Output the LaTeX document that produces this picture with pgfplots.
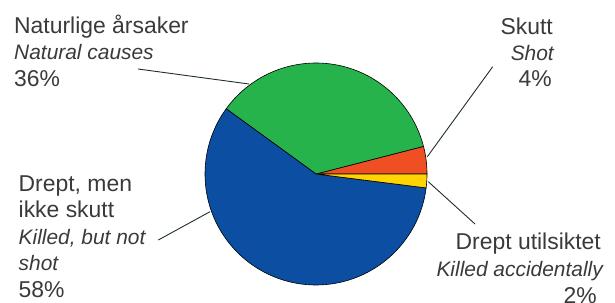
\documentclass[border=0pt]{standalone}
\usepackage{pgfplots}
\usepackage{pgfplotstable}
\pgfplotsset{compat=1.18}
\usepackage{fontspec}
\setmainfont{Liberation Sans}
\definecolor{cgreen}{HTML}{26B34B}
\definecolor{cred}{HTML}{F04E23}
\definecolor{cyellow}{HTML}{FFD400}
\definecolor{cblue}{HTML}{0B4EA2}
\definecolor{ctext}{HTML}{3A3A3A}
\definecolor{cline}{HTML}{1F2F2A}
\pgfplotstableread{
label share
shot 4
natural 36
killed 58
accident 2
}\piedata
\newcommand{\reg}{\fontsize{23}{26}\selectfont}
\newcommand{\ita}{\fontsize{21}{26}\selectfont\itshape}
\begin{document}
\begin{tikzpicture}
\pgfplotstablegetelem{0}{share}\of\piedata \let\sShot\pgfplotsretval
\pgfplotstablegetelem{1}{share}\of\piedata \let\sNat\pgfplotsretval
\pgfplotstablegetelem{2}{share}\of\piedata \let\sKill\pgfplotsretval
\pgfplotstablegetelem{3}{share}\of\piedata \let\sAcc\pgfplotsretval
\pgfmathsetmacro\aA{3.6*\sShot}
\pgfmathsetmacro\aB{\aA+3.6*\sNat}
\pgfmathsetmacro\aC{\aB+3.6*\sKill}
\pgfmathsetmacro\aD{\aC+3.6*\sAcc}
\def\cx{316}\def\cy{129}\def\R{111}
\begin{axis}[
  scale only axis, width=615bp, height=303bp,
  xmin=0, xmax=615, ymin=0, ymax=303,
  hide axis, clip=false,
  every axis plot/.append style={line join=round},
]
\addplot[draw=black, fill=cred, line width=0.6bp, domain=0:\aA, samples=20, variable=\t] ({\cx+\R*cos(\t)},{\cy+\R*sin(\t)}) -- (\cx,\cy) -- cycle;
\addplot[draw=black, fill=cgreen, line width=0.6bp, domain=\aA:\aB, samples=80, variable=\t] ({\cx+\R*cos(\t)},{\cy+\R*sin(\t)}) -- (\cx,\cy) -- cycle;
\addplot[draw=black, fill=cblue, line width=0.6bp, domain=\aB:\aC, samples=120, variable=\t] ({\cx+\R*cos(\t)},{\cy+\R*sin(\t)}) -- (\cx,\cy) -- cycle;
\addplot[draw=black, fill=cyellow, line width=0.6bp, domain=\aC:\aD, samples=10, variable=\t] ({\cx+\R*cos(\t)},{\cy+\R*sin(\t)}) -- (\cx,\cy) -- cycle;
% leader lines
\addplot[cline, line width=0.9bp] coordinates {(138,234) (249,219)};
\addplot[cline, line width=0.9bp] coordinates {(492.7,236.3) (427.3,146.3)};
\addplot[cline, line width=0.9bp] coordinates {(428.3,121.3) (475,79)};
\addplot[cline, line width=0.9bp] coordinates {(158.3,63) (210,91.3)};
% labels
\begin{scope}[every node/.style={text=ctext, inner sep=0pt}]
\node[anchor=base west] at (14,269.5) {\reg Naturlige årsaker};
\node[anchor=base west] at (14,243) {\ita Natural causes};
\node[anchor=base west] at (14,216) {\reg 36\%};
\node[anchor=base east] at (553,268.7) {\reg Skutt};
\node[anchor=base east] at (554,242) {\ita Shot};
\node[anchor=base east] at (552,216.3) {\reg 4\%};
\node[anchor=base west] at (18.5,111) {\reg Drept, men};
\node[anchor=base west] at (18.5,85) {\reg ikke skutt};
\node[anchor=base west] at (18.5,58.5) {\ita Killed, but not};
\node[anchor=base west] at (18.5,32) {\ita shot};
\node[anchor=base west] at (18.5,6) {\reg 58\%};
\node[anchor=base east] at (601,53) {\reg Drept utilsiktet};
\node[anchor=base east] at (603,26.3) {\ita Killed accidentally};
\node[anchor=base east] at (597,0) {\reg 2\%};
\end{scope}
\end{axis}
\pgfresetboundingbox
\path[use as bounding box] (current axis.south west) rectangle (current axis.north east);
\end{tikzpicture}
\end{document}
